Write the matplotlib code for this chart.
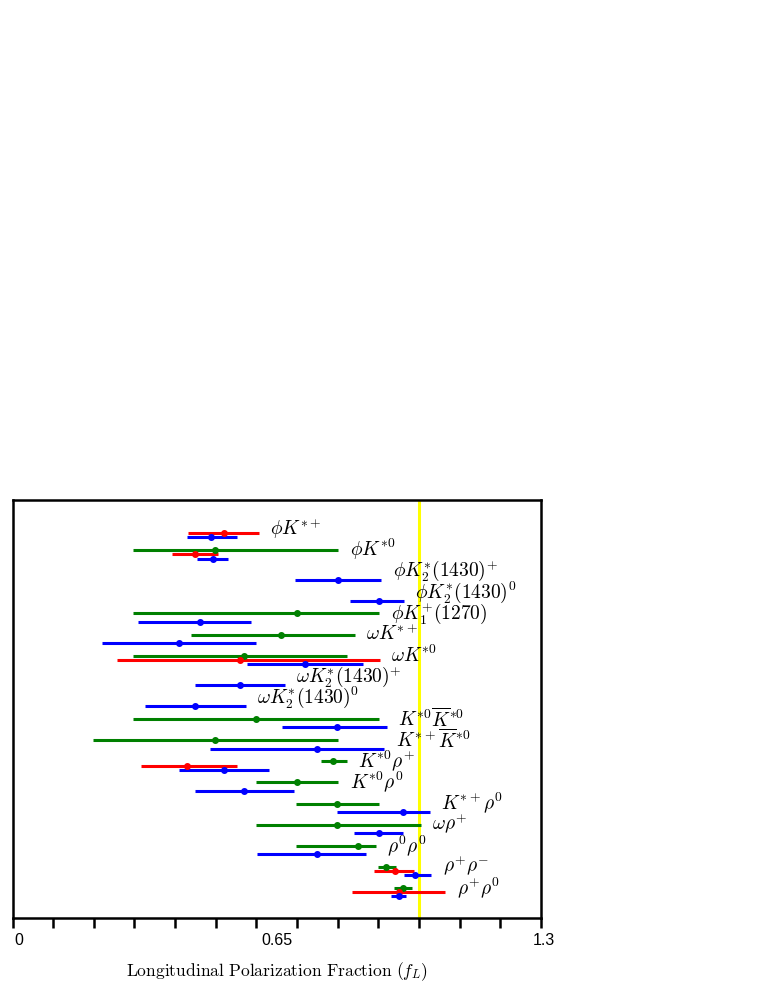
import numpy as np
import matplotlib
matplotlib.use("Agg")
import matplotlib.pyplot as plt
from matplotlib.ticker import MultipleLocator

plt.rcParams["mathtext.fontset"] = "cm"

# decay modes, top to bottom
decays = [
    r"$\phi K^{*+}$", r"$\phi K^{*0}$", r"$\phi K_2^{*}(1430)^{+}$", r"$\phi K_2^{*}(1430)^{0}$",
    r"$\phi K_1^{+}(1270)$", r"$\omega K^{*+}$", r"$\omega K^{*0}$", r"$\omega K_2^{*}(1430)^{+}$",
    r"$\omega K_2^{*}(1430)^{0}$", r"$K^{*0}\overline{K}^{*0}$", r"$K^{*+}\overline{K}^{*0}$",
    r"$K^{*0}\rho^{+}$", r"$K^{*0}\rho^{0}$", r"$K^{*+}\rho^{0}$", r"$\omega\rho^{+}$",
    r"$\rho^{0}\rho^{0}$", r"$\rho^{+}\rho^{-}$", r"$\rho^{+}\rho^{0}$",
]

nan = np.nan
# green measurements: central value, interval low, interval high
green_val = [nan, 0.499, nan, nan, 0.699, 0.660, 0.570, nan, nan, 0.599, 0.499, 0.789, 0.699, 0.799, 0.799, 0.850, 0.919, 0.960]
green_lo  = [nan, 0.296, nan, nan, 0.296, 0.438, 0.296, nan, nan, 0.296, 0.197, 0.758, 0.598, 0.698, 0.598, 0.698, 0.898, 0.938]
green_hi  = [nan, 0.801, nan, nan, 0.902, 0.842, 0.822, nan, nan, 0.902, 0.801, 0.822, 0.801, 0.902, 1.004, 0.893, 0.943, 0.983]

# red measurements
red_val = [0.520, 0.449, nan, nan, nan, nan, 0.559, nan, nan, nan, nan, 0.429, nan, nan, nan, nan, 0.940, 0.950]
red_lo  = [0.432, 0.393, nan, nan, nan, nan, 0.257, nan, nan, nan, nan, 0.316, nan, nan, nan, nan, 0.888, 0.836]
red_hi  = [0.606, 0.505, nan, nan, nan, nan, 0.903, nan, nan, nan, nan, 0.552, nan, nan, nan, nan, 0.988, 1.065]

# blue measurements
blue_val = [0.489, 0.493, 0.800, 0.901, 0.460, 0.410, 0.719, 0.559, 0.449, 0.799, 0.750, 0.520, 0.570, 0.960, 0.901, 0.750, 0.991, 0.950]
blue_lo  = [0.430, 0.455, 0.694, 0.829, 0.309, 0.221, 0.577, 0.449, 0.325, 0.664, 0.485, 0.409, 0.448, 0.799, 0.840, 0.602, 0.962, 0.932]
blue_hi  = [0.551, 0.531, 0.907, 0.962, 0.586, 0.600, 0.863, 0.670, 0.574, 0.920, 0.915, 0.630, 0.692, 1.027, 0.960, 0.870, 1.030, 0.969]

xtick_vals = [0, 0.65, 1.3]
xtick_text = ["0", "0.65", "1.3"]

fig = plt.figure(figsize=(7.61, 9.85), dpi=100)
ax = fig.add_axes([12.5 / 761, 1 - 918 / 985, 528.5 / 761, 418 / 985])

n = len(decays)
pos = np.arange(n, 0, -1).astype(float)  # top row = n

series = [
    (green_val, green_lo, green_hi, "green", 0.0),
    (red_val, red_lo, red_hi, "red", -0.2),
    (blue_val, blue_lo, blue_hi, "blue", -0.4),
]
for val, lo, hi, col, dy in series:
    v, l, h = np.array(val), np.array(lo), np.array(hi)
    ok = ~np.isnan(v)
    ax.errorbar(v[ok], pos[ok] + dy, xerr=[v[ok] - l[ok], h[ok] - v[ok]],
                fmt="o", color=col, ms=4, elinewidth=2.2, capsize=0, zorder=3)

ax.axvline(1.0, color="yellow", lw=2.2, zorder=2)

# labels just right of the widest bar of each row
all_hi = np.vstack([green_hi, red_hi, blue_hi])
for k, name in enumerate(decays):
    xr = np.nanmax(all_hi[:, k])
    ax.text(xr + 0.028, pos[k] + 0.02, name, fontsize=14, va="center", ha="left", zorder=4)

ax.set_xlim(0, 1.3)
ax.set_ylim(pos[-1] - 1.42, pos[0] + 1.37)
ax.set_yticks([])
ax.set_xticks([])
ax.xaxis.set_minor_locator(MultipleLocator(0.1))
ax.tick_params(axis="x", which="minor", length=7, width=1.8, direction="out")
# tick labels, nudged a little the way the original is
for v, t, dx in zip(xtick_vals, xtick_text, [4.3, 0, 2.2]):
    ax.annotate(t, xy=(v, 0), xycoords=("data", "axes fraction"), xytext=(dx, -16.5),
                textcoords="offset points", ha="center", va="center",
                family="Liberation Sans", fontsize=11.5)
for s in ax.spines.values():
    s.set_linewidth(1.8)

ax.set_xlabel(r"$\mathrm{Longitudinal\ Polarization\ Fraction\ }(f_L)$", fontsize=12.6)
ax.xaxis.set_label_coords(0.5, -0.102)

fig.savefig("out.png", dpi=100)
